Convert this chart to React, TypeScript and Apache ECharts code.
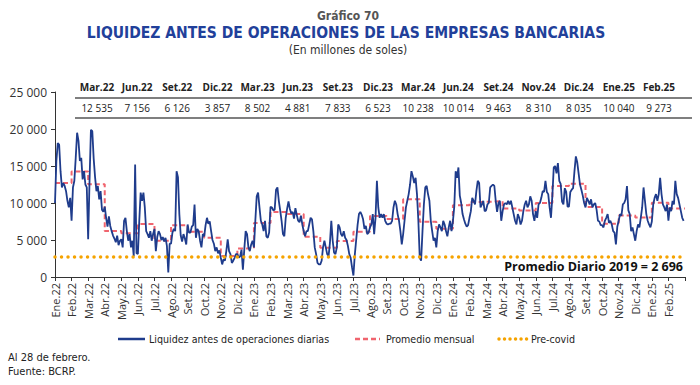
import React, { useEffect, useRef } from "react";
import * as echarts from "echarts";

const months = [
  "Ene.22", "Feb.22", "Mar.22", "Abr.22", "May.22", "Jun.22", "Jul.22", "Ago.22", "Set.22", "Oct.22", "Nov.22", "Dic.22",
  "Ene.23", "Feb.23", "Mar.23", "Abr.23", "May.23", "Jun.23", "Jul.23", "Ago.23", "Set.23", "Oct.23", "Nov.23", "Dic.23",
  "Ene.24", "Feb.24", "Mar.24", "Abr.24", "May.24", "Jun.24", "Jul.24", "Ago.24", "Set.24", "Oct.24", "Nov.24", "Dic.24",
  "Ene.25", "Feb.25",
];

const monthlyAvg = [
  12700, 14250, 12535, 6200, 5900, 7156, 4900, 7000, 6126, 5300, 2850, 3857,
  7300, 8800, 8502, 5450, 3950, 4881, 6100, 8250, 7833, 10500, 7450, 6523,
  9700, 10150, 10238, 9250, 9000, 10014, 12300, 12600, 9463, 7200, 8310, 8035,
  10040, 9273,
];

const daily: number[][] = [
  [10000, 15700, 18100, 17900, 14300, 12100, 12700, 12300, 11600, 10300, 9400, 10700],
  [7600, 12100, 13000, 16100, 19500, 18400, 15700, 16100, 13200, 14300, 12500, 12100],
  [5100, 13000, 19900, 19700, 16000, 13500, 11600, 12300, 10500, 11600, 9100, 8800],
  [9500, 8000, 6800, 8200, 6900, 6200, 5600, 5200, 4700, 5600, 4300, 4900],
  [5100, 4000, 7600, 8000, 6200, 4900, 5800, 4000, 4900, 2800, 15200, 3200],
  [3100, 7600, 11400, 10300, 11400, 9400, 6200, 5800, 5300, 6200, 4900, 5800],
  [6500, 3500, 5400, 6200, 5800, 5000, 5400, 4800, 5300, 4200, 600, 4500],
  [4500, 6000, 6500, 6200, 14300, 13500, 8500, 5600, 4800, 5800, 5200, 4400],
  [7100, 6000, 6000, 6800, 7000, 9800, 5300, 6500, 6200, 4900, 4000, 5800],
  [5500, 7000, 8000, 7200, 7500, 6200, 5000, 4500, 3500, 4000, 3200, 3600],
  [2600, 1700, 2400, 2200, 3500, 5100, 3500, 3100, 1900, 2200, 2600, 3100],
  [3100, 2600, 2800, 3700, 1000, 3700, 6200, 5800, 4000, 3500, 4400, 4900],
  [4000, 7600, 10900, 11400, 9400, 7600, 7100, 6200, 7600, 5500, 5300, 6000],
  [9500, 9400, 9000, 9100, 11800, 12100, 10300, 9000, 7600, 5800, 5500, 8000],
  [9200, 10200, 9200, 8600, 8800, 7900, 9300, 8400, 7600, 7400, 8300, 7100],
  [6200, 5500, 6200, 6200, 7100, 8000, 7800, 6200, 4000, 3100, 1900, 1700],
  [1700, 2200, 4000, 4900, 4000, 3100, 2800, 4600, 7600, 4900, 3300, 3100],
  [4000, 7100, 6700, 5800, 5500, 6200, 5300, 5000, 4200, 3100, 2600, 1300],
  [200, 3000, 5000, 7000, 8500, 8800, 8400, 7800, 6500, 6900, 5800, 6000],
  [6700, 7100, 8500, 5800, 8000, 13000, 9400, 8000, 8500, 8000, 8500, 7600],
  [7200, 7100, 7200, 7200, 7600, 9400, 10300, 9800, 8500, 7600, 6200, 4400],
  [5800, 7600, 9400, 10300, 11200, 12500, 14300, 13600, 12700, 13400, 11200, 7600],
  [2600, 2200, 6200, 9800, 12100, 12300, 11200, 10300, 7600, 6200, 4900, 5300],
  [4000, 6200, 7100, 6700, 6200, 7600, 7100, 6200, 5500, 6700, 7600, 6200],
  [7500, 9500, 14300, 13400, 14800, 11000, 10000, 8500, 7800, 7200, 6800, 7000],
  [8000, 8900, 10700, 10300, 9800, 11600, 13000, 12700, 9400, 9800, 10300, 8900],
  [9000, 9800, 10000, 12100, 12300, 12500, 12300, 10300, 8800, 10000, 10300, 7600],
  [8900, 9800, 10000, 9800, 10300, 9800, 10300, 9400, 8500, 7600, 7100, 8500],
  [8000, 7100, 7600, 8900, 9800, 10300, 9400, 9800, 10900, 10300, 8500, 7600],
  [8900, 8000, 9800, 10000, 10700, 11600, 11500, 13000, 11500, 11200, 9400, 8000],
  [11000, 14800, 15000, 14000, 15400, 13000, 12600, 10200, 9800, 12000, 11500, 9500],
  [9500, 11500, 11800, 12000, 14300, 16300, 15500, 14000, 12500, 11800, 11000, 10000],
  [9400, 10700, 10300, 9800, 10500, 9400, 9800, 10000, 9100, 7600, 7500, 7000],
  [7000, 6700, 7600, 8000, 8500, 7300, 7600, 7100, 6200, 6000, 4400, 6800],
  [7600, 8500, 8300, 9800, 10000, 10500, 12300, 9000, 8500, 6200, 6700, 5800],
  [4900, 6200, 7100, 6700, 8000, 9400, 12100, 10300, 8500, 7600, 7100, 6700],
  [7500, 9800, 10700, 11200, 10300, 11200, 13400, 11200, 9800, 9400, 8900, 9800],
  [7600, 9400, 8900, 10300, 9800, 13000, 11200, 10700, 9800, 8900, 8000, 7600],
];

const tableMonths = ["Mar.22", "Jun.22", "Set.22", "Dic.22", "Mar.23", "Jun.23", "Set.23", "Dic.23", "Mar.24", "Jun.24", "Set.24", "Nov.24", "Dic.24", "Ene.25", "Feb.25"];
const tableValues = [12535, 7156, 6126, 3857, 8502, 4881, 7833, 6523, 10238, 10014, 9463, 8310, 8035, 10040, 9273];

const preCovid = 2696;
const yMin = 0;
const yMax = 25000;
const yStep = 5000;

const fmt = (n: number) => String(Math.round(n)).replace(/\B(?=(\d{3})+(?!\d))/g, " ");

const FONT = "'Liberation Sans Narrow', 'DejaVu Sans Condensed', 'Open Sans', sans-serif";
const BODY = "'Open Sans', 'Noto Sans', sans-serif";
const BLUE = "#1f3c8c";
const RED = "#f0646e";
const ORANGE = "#f5a300";

export default function App() {
  const ref = useRef<HTMLDivElement>(null);
  useEffect(() => {
    if (!ref.current) return;
    const chart = echarts.init(ref.current, undefined, { renderer: "svg" });
    const dailyData: number[][] = [];
    daily.forEach((arr, m) => arr.forEach((v, i) => dailyData.push([m + i / arr.length, v])));
    const avgData: number[][] = monthlyAvg.map((v, m) => [m, v]);
    avgData.push([months.length, monthlyAvg[monthlyAvg.length - 1]]);
    const preData = [[0, preCovid], [months.length, preCovid]];

    const colX0 = 97;
    const colStep = 40.14;
    const tableGraphics: any[] = [];
    tableMonths.forEach((mName, i) => {
      tableGraphics.push({
        type: "text", x: colX0 + colStep * i, y: 87,
        style: { text: mName, fontFamily: BODY, fontWeight: "bold", fontSize: 10, fill: "#222", align: "center", verticalAlign: "middle" },
      });
      tableGraphics.push({
        type: "text", x: colX0 + colStep * i, y: 108,
        style: { text: fmt(tableValues[i]), fontFamily: BODY, fontSize: 10, fill: "#222", align: "center", verticalAlign: "middle" },
      });
    });

    const LEG = 10.6;
    chart.setOption({
      animation: false,
      grid: { left: 55, right: 15, top: 92, bottom: 108, containLabel: false },
      xAxis: {
        type: "value", min: 0, max: months.length, interval: 1,
        axisLine: { show: true, lineStyle: { color: "#333", width: 1 } },
        axisTick: { show: true, length: 4, lineStyle: { color: "#333" } },
        splitLine: { show: false },
        axisLabel: {
          rotate: 90, fontSize: 11, color: "#333", fontFamily: BODY, margin: 6,
          formatter: (v: number) => (Number.isInteger(v) && v < months.length ? months[v] : ""),
        },
      },
      yAxis: {
        type: "value", min: yMin, max: yMax, interval: yStep,
        axisLine: { show: true, lineStyle: { color: "#333", width: 1 } },
        axisTick: { show: true, length: 4, lineStyle: { color: "#333" } },
        splitLine: { show: false },
        axisLabel: { fontSize: 12, color: "#333", fontFamily: BODY, margin: 8, formatter: (v: number) => fmt(v) },
      },
      series: [
        {
          name: "Promedio mensual", type: "line", data: avgData, step: "end", symbol: "none", z: 2,
          lineStyle: { color: RED, width: 2, type: [5, 3] },
        },
        {
          name: "Liquidez antes de operaciones diarias", type: "line", data: dailyData, symbol: "none", z: 3,
          lineStyle: { color: BLUE, width: 1.8 },
        },
        {
          name: "Pre-covid", type: "line", data: preData, symbol: "none", z: 4,
          lineStyle: { color: ORANGE, width: 3.5, type: [0.01, 6.5], cap: "round" },
        },
      ],
      graphic: [
        { type: "text", x: 348, y: 16, style: { text: "Gráfico 70", fontFamily: FONT, fontWeight: "bold", fontSize: 12, fill: "#555", align: "center", verticalAlign: "middle" } },
        { type: "text", x: 346, y: 33, style: { text: "LIQUIDEZ ANTES DE OPERACIONES DE LAS EMPRESAS BANCARIAS", fontFamily: FONT, fontWeight: "bold", fontSize: 15.5, fill: "#21409a", align: "center", verticalAlign: "middle" } },
        { type: "text", x: 348, y: 50, style: { text: "(En millones de soles)", fontFamily: FONT, fontSize: 12, fill: "#333", align: "center", verticalAlign: "middle" } },
        { type: "line", shape: { x1: 75, y1: 98, x2: 692, y2: 98 }, style: { stroke: "#555", lineWidth: 1.5 } },
        { type: "line", shape: { x1: 75, y1: 118, x2: 692, y2: 118 }, style: { stroke: "#555", lineWidth: 1.5 } },
        ...tableGraphics,
        { type: "text", x: 683, y: 266, style: { text: "Promedio Diario 2019 = " + fmt(preCovid), fontFamily: BODY, fontWeight: "bold", fontSize: 12.5, fill: "#111", align: "right", verticalAlign: "middle" } },
        { type: "line", shape: { x1: 118, y1: 339, x2: 145, y2: 339 }, style: { stroke: BLUE, lineWidth: 2.5 } },
        { type: "text", x: 149, y: 339, style: { text: "Liquidez antes de operaciones diarias", fontFamily: FONT, fontSize: LEG, fill: "#222", verticalAlign: "middle" } },
        { type: "line", shape: { x1: 355, y1: 339, x2: 380, y2: 339 }, style: { stroke: RED, lineWidth: 2.5, lineDash: [5, 3] } },
        { type: "text", x: 386, y: 339, style: { text: "Promedio mensual", fontFamily: FONT, fontSize: LEG, fill: "#222", verticalAlign: "middle" } },
        { type: "line", shape: { x1: 499, y1: 339, x2: 527, y2: 339 }, style: { stroke: ORANGE, lineWidth: 3.5, lineDash: [0.01, 5.5], lineCap: "round" } },
        { type: "text", x: 531, y: 339, style: { text: "Pre-covid", fontFamily: FONT, fontSize: LEG, fill: "#222", verticalAlign: "middle" } },
        { type: "text", x: 8, y: 357, style: { text: "Al 28 de febrero.", fontFamily: FONT, fontSize: 11, fill: "#222", verticalAlign: "middle" } },
        { type: "text", x: 8, y: 371, style: { text: "Fuente: BCRP.", fontFamily: FONT, fontSize: 11, fill: "#222", verticalAlign: "middle" } },
      ],
    });
    return () => chart.dispose();
  }, []);
  return <div ref={ref} style={{ width: 700, height: 385, position: "absolute", left: 0, top: 0 }} />;
}
